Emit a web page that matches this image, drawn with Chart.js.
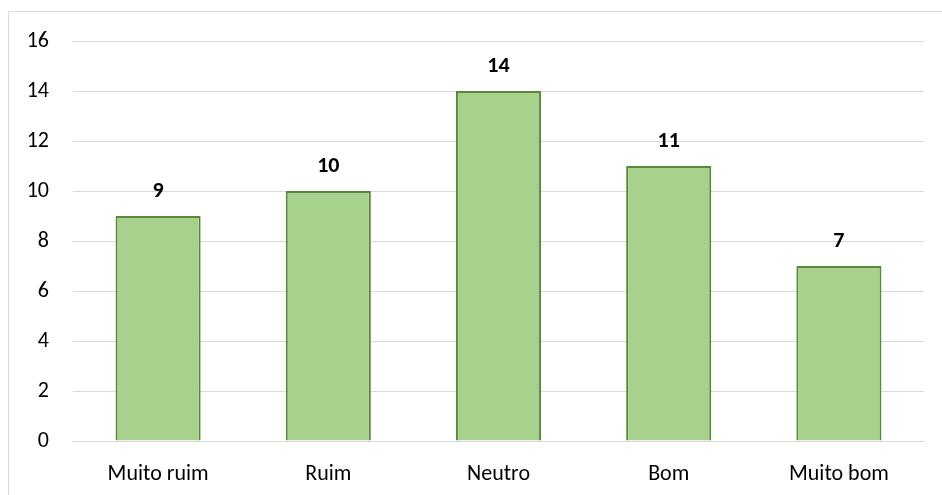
<!DOCTYPE html>
<html>
<head>
<meta charset="utf-8">
<script src="https://cdn.jsdelivr.net/npm/chart.js@4"></script>
<style>
  html, body { margin: 0; padding: 0; background: #fff; }
  #wrap { position: relative; width: 942px; height: 495px; overflow: hidden; }
  #frame { position: absolute; left: 8px; top: 11px; width: 960px; height: 520px; border: 1px solid #d9d9d9; box-sizing: border-box; }
  canvas { position: absolute; left: 0; top: 0; }
</style>
</head>
<body>
<div id="wrap">
  <div id="frame"></div>
  <canvas id="c" width="942" height="495"></canvas>
</div>
<script>
const categories = ["Muito ruim", "Ruim", "Neutro", "Bom", "Muito bom"];
const counts = [9, 10, 14, 11, 7];
const yTicks = [0, 2, 4, 6, 8, 10, 12, 14, 16];

const FONT = "Carlito, Calibri, Lato, 'Liberation Sans', sans-serif";
const FONT_SIZE = 22;

// Bold value printed above each bar
const valueLabels = {
  id: 'valueLabels',
  afterDatasetsDraw(chart) {
    const ctx = chart.ctx;
    const meta = chart.getDatasetMeta(0);
    ctx.save();
    ctx.font = "bold " + FONT_SIZE + "px " + FONT;
    ctx.fillStyle = "#000";
    ctx.textAlign = "center";
    ctx.textBaseline = "middle";
    meta.data.forEach((bar, i) => {
      ctx.fillText(String(counts[i]), bar.x, bar.y - 25);
    });
    ctx.restore();
  }
};

new Chart(document.getElementById('c'), {
  type: 'bar',
  data: {
    labels: categories,
    datasets: [{
      data: counts,
      backgroundColor: '#A9D18E',
      borderColor: '#578A38',
      borderWidth: 2,
      barPercentage: 0.5,
      categoryPercentage: 1.0
    }]
  },
  options: {
    responsive: false,
    animation: false,
    layout: { padding: { top: 41, right: 18, bottom: 0, left: 0 } },
    plugins: { legend: { display: false }, tooltip: { enabled: false } },
    scales: {
      x: {
        grid: { display: false, drawTicks: false },
        border: { display: true, color: '#d9d9d9', width: 1 },
        ticks: { color: '#000', font: { family: FONT, size: FONT_SIZE }, padding: 20 },
        afterFit(scale) { scale.height = 54; }
      },
      y: {
        min: 0, max: 16,
        afterBuildTicks(scale) { scale.ticks = yTicks.map(v => ({ value: v })); },
        grid: { color: '#d9d9d9', lineWidth: 1, drawTicks: false },
        border: { display: false },
        ticks: { color: '#000', font: { family: FONT, size: FONT_SIZE }, padding: 24 },
        afterFit(scale) { scale.width = 73; }
      }
    }
  },
  plugins: [valueLabels]
});
</script>
</body>
</html>
